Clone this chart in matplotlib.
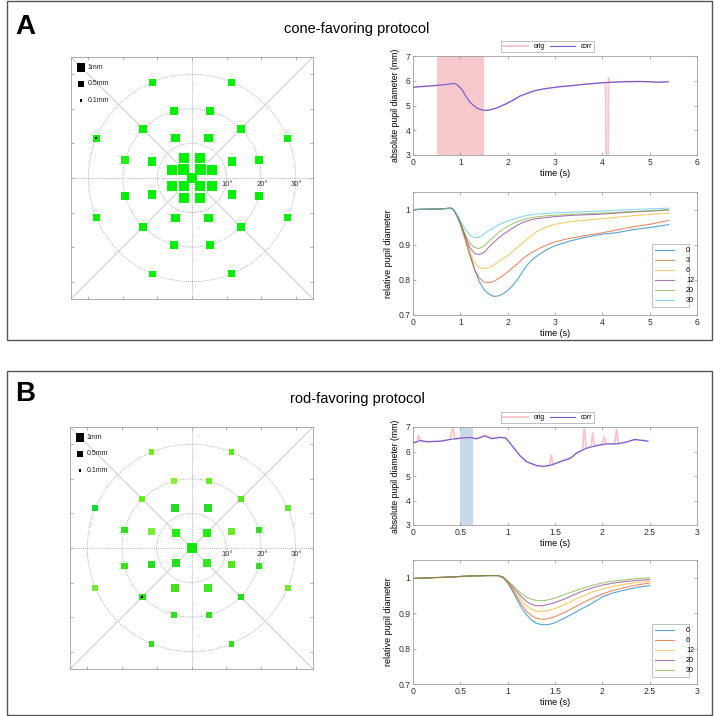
import matplotlib.pyplot as plt
import matplotlib.patches as mpatches
import numpy as np

plt.rcParams['font.family'] = ['Liberation Sans', 'DejaVu Sans']

# ---------------- data ----------------
# stimulus maps: ring eccentricity (deg), polar angles (deg), response (mm), colour
ringsA_ecc = [0, 3.4, 6.2, 12.5, 20, 30]
ringsA_ang = [[0],
              [45, 135, 225, 315],
              [22.5, 67.5, 112.5, 157.5, 202.5, 247.5, 292.5, 337.5],
              [22.5, 67.5, 112.5, 157.5, 202.5, 247.5, 292.5, 337.5],
              [15, 45, 75, 105, 135, 165, 195, 225, 255, 285, 315, 345],
              [22.5, 67.5, 112.5, 157.5, 202.5, 247.5, 292.5, 337.5]]
ringsA_amp = [[1.6],
              [1.5, 1.5, 1.45, 1.45],
              [1.3, 1.25, 1.25, 1.3, 1.28, 1.25, 1.25, 1.3],
              [0.98, 0.95, 0.95, 0.96, 0.96, 0.95, 0.96, 0.98],
              [0.84, 0.82, 0.84, 0.82, 0.8, 0.84, 0.84, 0.8, 0.84, 0.82, 0.84, 0.84],
              [0.64, 0.62, 0.62, 0.64, 0.62, 0.6, 0.62, 0.62]]
ringsA_col = [['#00f000'], ['#00f000'] * 4, ['#00f000'] * 8, ['#00f000'] * 8,
              ['#00f000', '#00f000', '#00f000', '#00f000', '#00f000', '#22f01a',
               '#00f000', '#00f000', '#00f000', '#00f000', '#00f000', '#00f000'],
              ['#00f000'] * 8]
markA = (30, 157.5)   # small black marker location (ecc, angle)

ringsB_ecc = [0, 6.2, 12.5, 20, 30]
ringsB_ang = [[0],
              [45, 135, 225, 315],
              [22.5, 67.5, 112.5, 157.5, 202.5, 247.5, 292.5, 337.5],
              [15, 45, 75, 105, 135, 165, 195, 225, 255, 285, 315, 345],
              [22.5, 67.5, 112.5, 157.5, 202.5, 247.5, 292.5, 337.5]]
ringsB_amp = [[1.15],
              [0.84, 0.84, 0.82, 0.82],
              [0.74, 0.74, 0.74, 0.72, 0.72, 0.74, 0.74, 0.72],
              [0.5, 0.52, 0.5, 0.5, 0.52, 0.55, 0.52, 0.55, 0.5, 0.5, 0.52, 0.5],
              [0.45, 0.42, 0.42, 0.48, 0.48, 0.45, 0.45, 0.45]]
ringsB_col = [['#11e611'],
              ['#22ee11', '#22ee11', '#22dd22', '#33e622'],
              ['#66ee22', '#22dd22', '#22dd22', '#77ee33', '#22dd22', '#44dd22', '#44e622', '#55e622'],
              ['#33dd22', '#55e622', '#66ee22', '#88ee33', '#66ee22', '#33dd22',
               '#44dd22', '#22dd22', '#33dd22', '#33dd22', '#22dd22', '#33dd22'],
              ['#66e633', '#55ee11', '#77ee22', '#11dd33', '#77e633', '#33dd22', '#33dd22', '#77e633']]
markB = (20, 225)

size_key = [1.0, 0.5, 0.1]
size_key_labels = ['1mm', '0.5mm', '0.1mm']
ring_radii = [10, 20, 30]

# absolute pupil traces (time s, diameter mm)
corrA = [(0, 5.74), (0.5, 5.81), (0.75, 5.86), (0.86, 5.89), (0.93, 5.85), (1.03, 5.65),
         (1.14, 5.31), (1.21, 5.12), (1.28, 5.0), (1.35, 4.9), (1.42, 4.84), (1.52, 4.8),
         (1.62, 4.82), (1.77, 4.9), (1.98, 5.08), (2.12, 5.22), (2.26, 5.38), (2.4, 5.48),
         (2.54, 5.58), (2.68, 5.64), (2.83, 5.69), (3.1, 5.76), (3.39, 5.81), (3.74, 5.88),
         (4.09, 5.93), (4.44, 5.96), (4.79, 5.97), (5.0, 5.96), (5.18, 5.94), (5.39, 5.96)]
origA = [(0, 5.74), (0.5, 5.81), (0.75, 5.86), (0.86, 5.89), (0.93, 5.85), (1.03, 5.65),
         (1.14, 5.31), (1.21, 5.12), (1.28, 5.0), (1.35, 4.9), (1.42, 4.84), (1.52, 4.8),
         (1.62, 4.82), (1.77, 4.9), (1.98, 5.08), (2.12, 5.22), (2.26, 5.38), (2.4, 5.48),
         (2.54, 5.58), (2.68, 5.64), (2.83, 5.69), (3.1, 5.76), (3.39, 5.81), (3.74, 5.88),
         (4.07, 5.92), (4.08, 2.0), (4.12, 2.0), (4.13, 6.12), (4.16, 5.93),
         (4.44, 5.96), (4.79, 5.97), (5.0, 5.96), (5.18, 5.94), (5.39, 5.96)]
stimA = (0.5, 1.5)

corrB = [(0, 6.35), (0.08, 6.45), (0.15, 6.40), (0.29, 6.42), (0.39, 6.49), (0.51, 6.55),
         (0.6, 6.57), (0.67, 6.52), (0.76, 6.63), (0.83, 6.52), (0.92, 6.57), (0.98, 6.55),
         (1.06, 6.17), (1.13, 5.83), (1.2, 5.58), (1.31, 5.42), (1.38, 5.39), (1.46, 5.45),
         (1.55, 5.58), (1.66, 5.72), (1.73, 5.94), (1.83, 6.13), (1.94, 6.24), (2.04, 6.31),
         (2.15, 6.31), (2.25, 6.38), (2.34, 6.49), (2.43, 6.45), (2.48, 6.42)]
origB = [(0, 6.35), (0.04, 6.4), (0.06, 6.65), (0.08, 6.4), (0.15, 6.4), (0.29, 6.42),
         (0.39, 6.49), (0.42, 7.0), (0.44, 6.5), (0.51, 6.55), (0.6, 6.6), (0.67, 6.52),
         (0.76, 6.68), (0.83, 6.55), (0.92, 6.6), (0.98, 6.55), (1.06, 6.17), (1.13, 5.83),
         (1.2, 5.58), (1.31, 5.42), (1.38, 5.39), (1.44, 5.42), (1.46, 5.85), (1.48, 5.45),
         (1.55, 5.58), (1.66, 5.72), (1.73, 5.94), (1.79, 6.05), (1.81, 7.0), (1.83, 6.13),
         (1.88, 6.2), (1.9, 6.75), (1.92, 6.2), (1.94, 6.24), (2.0, 6.28), (2.02, 6.6),
         (2.04, 6.31), (2.1, 6.3), (2.13, 6.31), (2.15, 6.9), (2.17, 6.31), (2.25, 6.38),
         (2.34, 6.49), (2.43, 6.45), (2.48, 6.42)]
stimB = (0.5, 0.63)

# relative pupil traces
tA = [0, 0.3, 0.6, 0.8, 0.85, 0.9, 0.95, 1.0, 1.1, 1.2, 1.3, 1.4, 1.5, 1.6, 1.7, 1.8, 1.9,
      2.0, 2.1, 2.2, 2.3, 2.4, 2.5, 2.6, 2.8, 3.0, 3.3, 3.6, 4.0, 4.3, 4.6, 5.0, 5.4]
relA_labels = ['0', '3', '6', '12', '20', '30']
relA = [
    [1.0, 1.001, 1.002, 1.004, 1.0, 0.99, 0.975, 0.962, 0.92, 0.875, 0.83, 0.795, 0.772, 0.76,
     0.753, 0.754, 0.76, 0.77, 0.783, 0.8, 0.82, 0.84, 0.855, 0.866, 0.884, 0.897, 0.91, 0.92,
     0.93, 0.934, 0.942, 0.949, 0.957],
    [1.0, 1.001, 1.002, 1.004, 1.0, 0.99, 0.975, 0.958, 0.915, 0.87, 0.83, 0.805, 0.794, 0.792,
     0.795, 0.803, 0.812, 0.822, 0.834, 0.845, 0.858, 0.868, 0.877, 0.885, 0.898, 0.908, 0.918,
     0.925, 0.934, 0.942, 0.95, 0.958, 0.969],
    [1.0, 1.001, 1.002, 1.004, 1.0, 0.99, 0.976, 0.96, 0.92, 0.88, 0.848, 0.835, 0.832, 0.834,
     0.842, 0.851, 0.86, 0.869, 0.88, 0.892, 0.903, 0.915, 0.926, 0.936, 0.95, 0.958, 0.965,
     0.969, 0.974, 0.978, 0.982, 0.986, 0.99],
    [1.0, 1.001, 1.002, 1.004, 1.0, 0.99, 0.977, 0.962, 0.925, 0.892, 0.875, 0.872, 0.878, 0.893,
     0.906, 0.918, 0.929, 0.938, 0.947, 0.955, 0.962, 0.967, 0.971, 0.974, 0.977, 0.98, 0.983,
     0.985, 0.987, 0.99, 0.993, 0.996, 0.999],
    [1.0, 1.001, 1.002, 1.004, 1.0, 0.99, 0.978, 0.964, 0.93, 0.905, 0.892, 0.889, 0.896, 0.909,
     0.922, 0.934, 0.944, 0.952, 0.959, 0.965, 0.97, 0.974, 0.977, 0.979, 0.982, 0.984, 0.986,
     0.988, 0.99, 0.992, 0.994, 0.996, 0.999],
    [1.0, 1.001, 1.002, 1.004, 1.001, 0.992, 0.98, 0.968, 0.945, 0.928, 0.92, 0.921, 0.93, 0.94,
     0.948, 0.956, 0.962, 0.967, 0.972, 0.976, 0.98, 0.983, 0.985, 0.987, 0.989, 0.991, 0.992,
     0.994, 0.996, 0.998, 1.0, 1.002, 1.004],
]

tB = [0, 0.2, 0.4, 0.6, 0.8, 0.9, 0.95, 1.0, 1.05, 1.1, 1.15, 1.2, 1.25, 1.3, 1.35, 1.4, 1.45,
      1.5, 1.6, 1.7, 1.8, 1.9, 2.0, 2.1, 2.2, 2.3, 2.4, 2.5]
relB_labels = ['0', '6', '12', '20', '30']
relB = [
    [0.998, 1.0, 1.002, 1.005, 1.006, 1.006, 1.0, 0.985, 0.963, 0.938, 0.914, 0.895, 0.881,
     0.872, 0.868, 0.867, 0.869, 0.873, 0.886, 0.9, 0.915, 0.929, 0.946, 0.956, 0.963, 0.969,
     0.974, 0.978],
    [0.998, 1.0, 1.002, 1.005, 1.006, 1.006, 1.001, 0.987, 0.967, 0.945, 0.923, 0.905, 0.893,
     0.886, 0.883, 0.883, 0.886, 0.89, 0.902, 0.916, 0.93, 0.943, 0.954, 0.963, 0.97, 0.976,
     0.981, 0.985],
    [0.998, 1.0, 1.002, 1.005, 1.006, 1.006, 1.001, 0.988, 0.971, 0.952, 0.934, 0.92, 0.911,
     0.906, 0.905, 0.906, 0.909, 0.913, 0.924, 0.937, 0.949, 0.96, 0.968, 0.975, 0.98, 0.984,
     0.988, 0.99],
    [0.998, 1.0, 1.002, 1.005, 1.006, 1.006, 1.002, 0.99, 0.975, 0.96, 0.945, 0.933, 0.925,
     0.921, 0.921, 0.923, 0.926, 0.93, 0.94, 0.952, 0.963, 0.972, 0.979, 0.984, 0.988, 0.991,
     0.993, 0.995],
    [0.998, 1.0, 1.002, 1.005, 1.006, 1.006, 1.002, 0.991, 0.979, 0.966, 0.954, 0.945, 0.939,
     0.936, 0.935, 0.936, 0.939, 0.943, 0.952, 0.962, 0.971, 0.979, 0.985, 0.99, 0.993, 0.996,
     0.998, 1.0],
]

ml_colors = ['#0072BD', '#D95319', '#EDB120', '#7E2F8E', '#77AC30', '#4DBEEE']

# ---------------- figure ----------------
fig = plt.figure(figsize=(7.14, 7.16), dpi=100)
W, H = 714, 716


def px_axes(x0, y0, x1, y1):
    return fig.add_axes([x0 / W, 1 - y1 / H, (x1 - x0) / W, (y1 - y0) / H])


def frame_style(ax):
    for s in ax.spines.values():
        s.set_color('#a0a0a0')
        s.set_linewidth(0.6)
    ax.tick_params(direction='in', top=True, right=True, length=2.5, width=0.5,
                   color='#909090', labelsize=6.2, labelcolor='#303030', pad=2)


# panel boxes
for y0, y1 in [(1, 340), (371, 715)]:
    fig.patches.append(mpatches.Rectangle((7 / W, 1 - y1 / H), 705 / W, (y1 - y0) / H,
                                          transform=fig.transFigure, fill=False,
                                          edgecolor='#555555', linewidth=1.0))

fig.text(15 / W, 1 - 27 / H, 'A', fontsize=20, fontweight='bold', va='center', ha='left')
fig.text(15 / W, 1 - 394 / H, 'B', fontsize=20, fontweight='bold', va='center', ha='left')
fig.text(357 / W, 1 - 29 / H, 'cone-favoring protocol', fontsize=10.5, ha='center', va='center')
fig.text(357 / W, 1 - 399 / H, 'rod-favoring protocol', fontsize=10.5, ha='center', va='center')

PX_PER_SQRT_MM = 8.5


def msize(mm):
    side_pt = PX_PER_SQRT_MM * np.sqrt(np.asarray(mm, dtype=float)) * 72 / 100
    return side_pt ** 2


def stim_map(ax, eccs, angs, amps, cols, mark):
    frame_style(ax)
    ax.set_xlim(-35, 35)
    ax.set_ylim(-35, 35)
    ax.set_xticks([-30, -20, -10, 0, 10, 20, 30])
    ax.set_yticks([-30, -20, -10, 0, 10, 20, 30])
    ax.set_xticklabels([])
    ax.set_yticklabels([])
    for r in ring_radii:
        ax.add_patch(mpatches.Circle((0, 0), r, fill=False, edgecolor='#9a9a9a',
                                     linestyle=(0, (1, 1.5)), linewidth=0.6))
        ax.text(r + 0.3, -1.9, f'{r}°', fontsize=5.5, ha='center', va='center', color='#333333')
    ax.axhline(0, color='#9a9a9a', linestyle=(0, (1, 1.5)), linewidth=0.6)
    ax.axvline(0, color='#9a9a9a', linestyle=(0, (1, 1.5)), linewidth=0.6)
    ax.axline((0, 0), slope=1, color='#c4c4c4', linewidth=0.6)
    ax.axline((0, 0), slope=-1, color='#c4c4c4', linewidth=0.6)
    for e, a_list, m_list, c_list in zip(eccs, angs, amps, cols):
        a = np.radians(a_list)
        ax.scatter(e * np.cos(a), e * np.sin(a), s=msize(m_list), marker='s',
                   c=c_list, linewidths=0, zorder=3)
    e, a = mark
    ax.scatter([e * np.cos(np.radians(a))], [e * np.sin(np.radians(a))],
               s=msize(0.08), marker='s', c='black', linewidths=0, zorder=4)
    # size key
    key_y = [31.9, 27.2, 22.5]
    ax.scatter([-32.1] * 3, key_y, s=msize(size_key), marker='s', c='black',
               linewidths=0, zorder=4)
    for yy, lab in zip(key_y, size_key_labels):
        ax.text(-30.2, yy, lab, fontsize=5, va='center', ha='left', color='#222222')


axA = px_axes(71, 57, 313, 299)
stim_map(axA, ringsA_ecc, ringsA_ang, ringsA_amp, ringsA_col, markA)
axB = px_axes(70, 427, 313, 669)
stim_map(axB, ringsB_ecc, ringsB_ang, ringsB_amp, ringsB_col, markB)


def abs_plot(ax, orig, corr, stim, stim_color, xmax, xticks):
    frame_style(ax)
    ax.axvspan(stim[0], stim[1], color=stim_color, linewidth=0, zorder=0)
    o = np.array(orig)
    c = np.array(corr)
    ax.plot(o[:, 0], o[:, 1], color='#f8c4c8', linewidth=1.3, label='orig', zorder=2)
    ax.plot(c[:, 0], c[:, 1], color='#6a5cd6', linewidth=0.8, label='corr', zorder=3)
    ax.set_xlim(0, xmax)
    ax.set_ylim(3, 7)
    ax.set_xticks(xticks)
    ax.set_xticklabels([f'{v:g}' for v in xticks])
    ax.set_yticks([3, 4, 5, 6, 7])
    ax.set_xlabel('time (s)', fontsize=6.5, labelpad=1.5)
    ax.set_ylabel('absolute pupil diameter (mm)', fontsize=6.3, labelpad=4)
    leg = ax.legend(loc='center', bbox_to_anchor=(0.474, 1.095), ncol=2, fontsize=4.8,
                    frameon=True, fancybox=False, handlelength=3.8, borderpad=0.3,
                    columnspacing=0.8, handletextpad=0.8, borderaxespad=0)
    leg.get_frame().set_edgecolor('#909090')
    leg.get_frame().set_linewidth(0.5)


def rel_plot(ax, t, curves, labels, xmax, xticks, leg_anchor):
    frame_style(ax)
    for y, lab, col in zip(curves, labels, ml_colors):
        ax.plot(t, y, color=col, linewidth=0.8, alpha=0.65, label=lab)
    ax.set_xlim(0, xmax)
    ax.set_ylim(0.7, 1.05)
    ax.set_xticks(xticks)
    ax.set_xticklabels([f'{v:g}' for v in xticks])
    ax.set_yticks([0.7, 0.8, 0.9, 1.0])
    ax.set_yticklabels(['0.7', '0.8', '0.9', '1'])
    ax.set_xlabel('time (s)', fontsize=6.5, labelpad=1.5)
    ax.set_ylabel('relative pupil diameter', fontsize=6.5, labelpad=4)
    leg = ax.legend(loc='lower right', bbox_to_anchor=leg_anchor, fontsize=5.2,
                    frameon=True, fancybox=False, handlelength=2.6, borderpad=0.4,
                    labelspacing=0.4, handletextpad=0.6, borderaxespad=0)
    leg.get_frame().set_edgecolor('#909090')
    leg.get_frame().set_linewidth(0.5)
    for txt in leg.get_texts():
        txt.set_ha('right')
        txt.set_position((8, 0))


abs_plot(px_axes(413, 56, 697, 155), origA, corrA, stimA, '#f7c8cc', 6, [0, 1, 2, 3, 4, 5, 6])
rel_plot(px_axes(413, 192, 697, 315), tA, relA, relA_labels, 6, [0, 1, 2, 3, 4, 5, 6],
         (0.972, 0.065))
abs_plot(px_axes(413, 427, 697, 525), origB, corrB, stimB, '#c8d9eb', 3,
         [0, 0.5, 1, 1.5, 2, 2.5, 3])
rel_plot(px_axes(413, 560, 697, 684), tB, relB, relB_labels, 3, [0, 0.5, 1, 1.5, 2, 2.5, 3],
         (0.972, 0.056))

fig.savefig('out.png', dpi=100)
